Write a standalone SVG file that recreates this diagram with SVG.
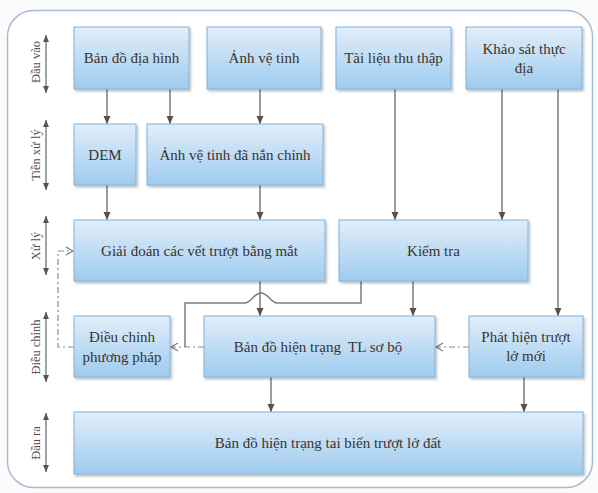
<svg xmlns="http://www.w3.org/2000/svg" width="598" height="493" viewBox="0 0 598 493">
<defs>
<linearGradient id="bg" x1="0" y1="0" x2="0" y2="1">
<stop offset="0" stop-color="#e2eefa"/>
<stop offset="1" stop-color="#9ecbee"/>
</linearGradient>
<filter id="sh" x="-10%" y="-10%" width="130%" height="140%">
<feDropShadow dx="1.5" dy="2" stdDeviation="1.2" flood-color="#000" flood-opacity="0.25"/>
</filter>
<marker id="ah" markerUnits="userSpaceOnUse" markerWidth="8" markerHeight="8" refX="8" refY="4" orient="auto">
<path d="M0,0.5 L8,4 L0,7.5 z" fill="#5a4e4e"/>
</marker>
<marker id="oa" markerUnits="userSpaceOnUse" markerWidth="9" markerHeight="10" refX="8" refY="5" orient="auto">
<path d="M1,1 L8,5 L1,9" fill="none" stroke="#777" stroke-width="1.2"/>
</marker>
<marker id="la" markerUnits="userSpaceOnUse" markerWidth="8" markerHeight="8" refX="7" refY="4" orient="auto-start-reverse">
<path d="M0,1 L7,4 L0,7 z" fill="#555"/>
</marker>
</defs>
<style>
.box{fill:url(#bg);stroke:#7fb2da;stroke-width:1;filter:url(#sh)}
.t{font-family:"Liberation Serif","DejaVu Serif",serif;font-size:15px;fill:#3a3430;text-anchor:middle;dominant-baseline:central}
.side{font-family:"Liberation Serif","DejaVu Serif",serif;font-size:12.5px;fill:#5a4c44;text-anchor:middle;dominant-baseline:central}
.c{fill:none;stroke:#857878;stroke-width:1.5}
.d{fill:none;stroke:#8a8a8a;stroke-width:1.2;stroke-dasharray:6 3 2 3}
.sa{fill:none;stroke:#666;stroke-width:1.2}
</style>
<rect x="0" y="0" width="598" height="493" fill="#fbfbfb"/>
<rect x="7.5" y="10.5" width="585" height="477" rx="26" ry="26" fill="#ffffff" stroke="#a9bcd6" stroke-width="1.5"/>

<g id="stages">
<line class="sa" x1="46" y1="35" x2="46" y2="93" marker-start="url(#la)" marker-end="url(#la)"/>
<text class="side" x="36" y="62" transform="rotate(-90 36 62)">Đầu vào</text>
<line class="sa" x1="46" y1="120" x2="46" y2="190" marker-start="url(#la)" marker-end="url(#la)"/>
<text class="side" x="36" y="155" transform="rotate(-90 36 155)">Tiền xử lý</text>
<line class="sa" x1="46" y1="216" x2="46" y2="275" marker-start="url(#la)" marker-end="url(#la)"/>
<text class="side" x="36" y="246" transform="rotate(-90 36 246)">Xử lý</text>
<line class="sa" x1="46" y1="312" x2="46" y2="382" marker-start="url(#la)" marker-end="url(#la)"/>
<text class="side" x="36" y="347" transform="rotate(-90 36 347)">Điều chỉnh</text>
<line class="sa" x1="46" y1="413" x2="46" y2="472" marker-start="url(#la)" marker-end="url(#la)"/>
<text class="side" x="36" y="443" transform="rotate(-90 36 443)">Đầu ra</text>
</g>

<g id="connectors">
<path class="c" d="M107 89 V124" marker-end="url(#ah)"/>
<path class="c" d="M170 89 V124" marker-end="url(#ah)"/>
<path class="c" d="M260 89 V124" marker-end="url(#ah)"/>
<path class="c" d="M395 89 V220" marker-end="url(#ah)"/>
<path class="c" d="M502 89 V220" marker-end="url(#ah)"/>
<path class="c" d="M558 89 V316" marker-end="url(#ah)"/>
<path class="c" d="M107 185 V220" marker-end="url(#ah)"/>
<path class="c" d="M260 185 V220" marker-end="url(#ah)"/>
<path class="c" d="M260 281 V316" marker-end="url(#ah)"/>
<path class="c" d="M413 281 V316" marker-end="url(#ah)"/>
<path class="c" d="M271 377 V412" marker-end="url(#ah)"/>
<path class="c" d="M524 377 V412" marker-end="url(#ah)"/>
<path class="c" d="M361 281 V303 H277 C271 303 268 293 261 293 C254 293 251 303 245 303 H185 V347"/>
<path class="d" d="M204 347 H171" marker-end="url(#oa)"/>
<path class="d" d="M469 347 H436" marker-end="url(#oa)"/>
<path class="d" d="M74 347 H58 V251 H73" marker-end="url(#oa)"/>
</g>

<g id="ban-do-dia-hinh"><rect class="box" x="74" y="27" width="115" height="62"/><text class="t" x="131.5" y="58">Bản đồ địa hình</text></g>
<g id="anh-ve-tinh"><rect class="box" x="207" y="27" width="114" height="62"/><text class="t" x="264" y="58">Ảnh vệ tinh</text></g>
<g id="tai-lieu-thu-thap"><rect class="box" x="336" y="27" width="115" height="62"/><text class="t" x="393.5" y="58">Tài liệu thu thập</text></g>
<g id="khao-sat-thuc-dia"><rect class="box" x="466" y="27" width="116" height="62"/><text class="t" x="524" y="49">Khảo sát thực</text><text class="t" x="524" y="68">địa</text></g>

<g id="dem"><rect class="box" x="74" y="124" width="62" height="61"/><text class="t" x="105" y="154.5">DEM</text></g>
<g id="anh-ve-tinh-nan-chinh"><rect class="box" x="147" y="124" width="176" height="61"/><text class="t" x="235" y="154.5">Ảnh vệ tinh đã nắn chỉnh</text></g>

<g id="giai-doan"><rect class="box" x="74" y="220" width="251" height="61"/><text class="t" x="199.5" y="250.5">Giải đoán các vết trượt bằng mắt</text></g>
<g id="kiem-tra"><rect class="box" x="339" y="220" width="189" height="61"/><text class="t" x="433.5" y="250.5">Kiểm tra</text></g>

<g id="dieu-chinh-phuong-phap"><rect class="box" x="74" y="316" width="96" height="61"/><text class="t" x="122" y="337">Điều chỉnh</text><text class="t" x="122" y="357">phương pháp</text></g>
<g id="ban-do-hien-trang-so-bo"><rect class="box" x="204" y="316" width="231" height="61"/><text class="t" x="318" y="346.5" xml:space="preserve">Bản đồ hiện trạng  TL sơ bộ</text></g>
<g id="phat-hien-truot-lo-moi"><rect class="box" x="469" y="316" width="114" height="61"/><text class="t" x="526" y="337">Phát hiện trượt</text><text class="t" x="526" y="356">lở mới</text></g>

<g id="ban-do-hien-trang-tai-bien"><rect class="box" x="74" y="412" width="509" height="62"/><text class="t" x="328" y="443">Bản đồ hiện trạng tai biến trượt lở đất</text></g>
</svg>
